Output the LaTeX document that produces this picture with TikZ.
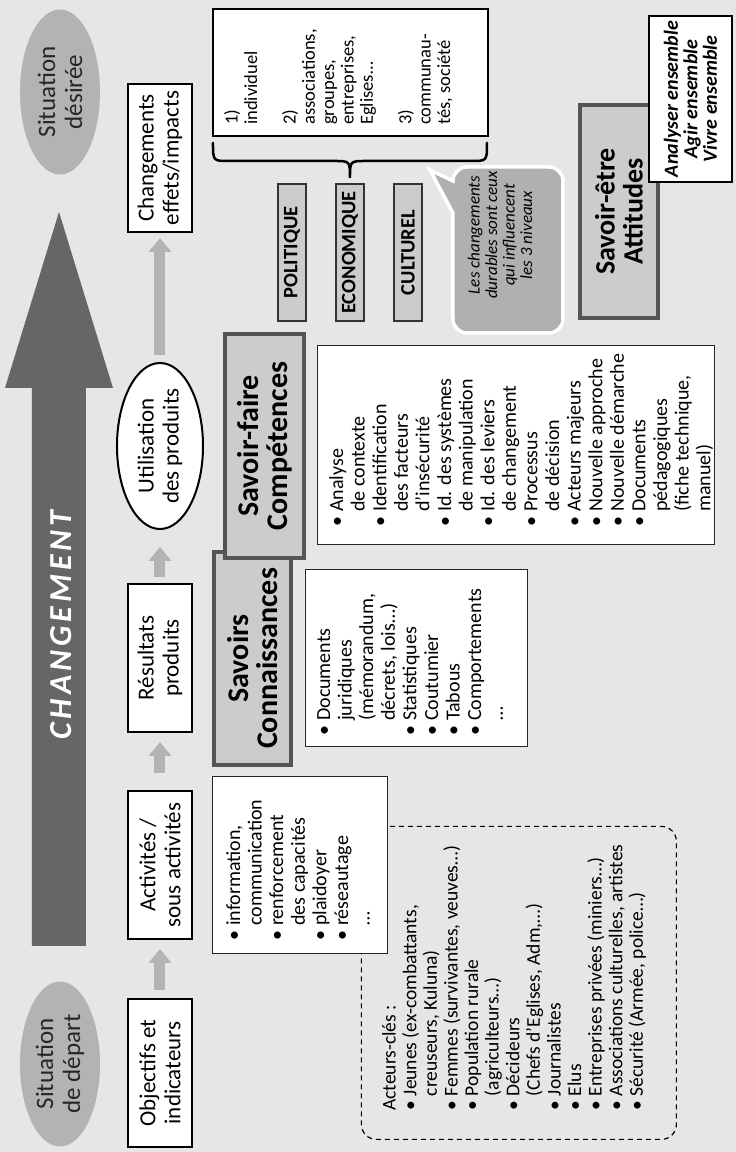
\documentclass[tikz,border=0pt]{standalone}
\usepackage{fontspec}
\setmainfont{Carlito}
\usetikzlibrary{arrows.meta,shapes.geometric}
\definecolor{bg}{HTML}{E6E6E6}
\definecolor{ellgray}{HTML}{B3B3B3}
\definecolor{bigarrow}{HTML}{666666}
\definecolor{arrowgray}{HTML}{B3B3B3}
\definecolor{savfill}{HTML}{CCCCCC}
\definecolor{savborder}{HTML}{555555}
\definecolor{bubblegray}{HTML}{B0B0B0}
\newcommand{\lbul}{\makebox[0.75em][l]{\textbullet}}
\newcommand{\lind}{\hspace*{0.75em}}
\begin{document}
\begin{tikzpicture}[x=1pt,y=1pt,rotate=90,transform shape,
  lbl/.style={draw=black,line width=2pt,fill=white,minimum width=148pt,minimum height=64pt,inner sep=0pt,align=center,font=\fontsize{23}{25}\selectfont},
  sit/.style={ellipse,fill=ellgray,minimum width=165pt,minimum height=80pt,inner sep=0pt,align=center,text=black!85,font=\fontsize{25}{27}\selectfont},
  garrow/.style={draw=arrowgray,line width=11pt,-{Triangle[length=14pt,width=22pt]}},
  listbox/.style={draw=black!85,line width=1.3pt,fill=white,anchor=north west,inner sep=0pt},
  listtxt/.style={anchor=north west,inner sep=0pt,align=left,font=\fontsize{20}{21.6}\selectfont},
  savbox/.style={draw=savborder,line width=4.5pt,fill=savfill,inner sep=0pt,align=center,font=\fontsize{30}{29}\selectfont\bfseries},
  dombox/.style={draw=black!80,line width=2pt,fill=savfill,minimum width=137pt,minimum height=28pt,inner sep=0pt,font=\fontsize{20.5}{20}\selectfont\bfseries},
]
% background
\fill[bg] (0,0) rectangle (1152,736);
\useasboundingbox (0,0) rectangle (1152,736);

% big arrow
\fill[bigarrow] (206,650) -- (764,650) -- (764,623) -- (940,677) -- (764,731) -- (764,704) -- (206,704) -- cycle;
\node[text=white,font=\fontsize{32}{32}\selectfont\bfseries\itshape,inner sep=0pt] (chgt) at (527,675)
  {C\kern4pt H\kern4pt A\kern4pt N\kern4pt G\kern4pt E\kern4pt M\kern4pt E\kern4pt N\kern4pt T};

% situations
\node[sit] (start) at (88,676) {Situation\\de départ};
\node[sit] (goal) at (1060,676) {Situation\\désirée};

% chain
\node[lbl] (obj) at (79,576) {Objectifs et\\indicateurs};
\node[lbl] (act) at (287,576) {Activités /\\sous activités};
\node[lbl] (res) at (494,576) {Résultats\\produits};
\node[ellipse,draw=black,line width=2pt,fill=white,minimum width=166pt,minimum height=86pt,inner sep=0pt,align=center,font=\fontsize{23}{25}\selectfont] (util) at (706,576) {Utilisation\\des produits};
\node[lbl] (chg) at (994,576) {Changements\\effets/impacts};

\draw[garrow,shorten <=8pt,shorten >=9pt] (obj.east) -- (act.west);
\draw[garrow,shorten <=17pt,shorten >=9pt] (act.east) -- (res.west);
\draw[garrow,shorten <=6pt,shorten >=17pt] (res.east) -- (util.west);
\draw[garrow,shorten <=7pt,shorten >=5pt] (util.east) -- (chg.west);

% actors dashed box
\node[draw=black,line width=1.2pt,dash pattern=on 5pt off 4pt,rounded corners=15pt,anchor=south west,minimum width=313pt,minimum height=315pt,inner sep=0pt] (actors) at (12,59) {};
\node[listtxt,font=\fontsize{19.5}{20.6}\selectfont] (actorstxt) at (41,354) {Acteurs-clés :\\
\lbul Jeunes (ex-combattants,\\
\lind creuseurs, Kuluna)\\
\lbul Femmes (survivantes, veuves…)\\
\lbul Population rurale\\
\lind (agriculteurs…)\\
\lbul Décideurs\\
\lind (Chefs d’Eglises, Adm,…)\\
\lbul Journalistes\\
\lbul Elus\\
\lbul Entreprises privées (miniers…)\\
\lbul Associations culturelles, artistes\\
\lbul Sécurité (Armée, police…)};

% activities list
\node[listbox,minimum width=177pt,minimum height=175pt] (actbox) at (198,524) {};
\node[listtxt] (acttxt) at (211,510) {\lbul information,\\
\lind communication\\
\lbul renforcement\\
\lind des capacités\\
\lbul plaidoyer\\
\lbul réseautage\\
\lind …};

% savoirs
\node[savbox,minimum width=213pt,minimum height=77pt] (savoirs) at (493.5,483.5) {Savoirs\\Connaissances};
\node[savbox,minimum width=224pt,minimum height=79pt] (savfaire) at (706,471.5) {Savoir-faire\\Compétences};

\node[listbox,minimum width=177pt,minimum height=222pt] (connbox) at (405,431) {};
\node[listtxt] (conntxt) at (416,419) {\lbul Documents\\
\lind juridiques\\
\lind (mémorandum,\\
\lind décrets, lois…)\\
\lbul Statistiques\\
\lbul Coutumier\\
\lbul Tabous\\
\lbul Comportements\\
\lind …};

\node[listbox,minimum width=199pt,minimum height=397pt] (compbox) at (607,419) {};
\node[listtxt] (comptxt) at (625,407) {\lbul Analyse\\
\lind de contexte\\
\lbul Identification\\
\lind des facteurs\\
\lind d’insécurité\\
\lbul Id. des systèmes\\
\lind de manipulation\\
\lbul Id. des leviers\\
\lind de changement\\
\lbul Processus\\
\lind de décision\\
\lbul Acteurs majeurs\\
\lbul Nouvelle approche\\
\lbul Nouvelle démarche\\
\lbul Documents\\
\lind pédagogiques\\
\lind (fiche technique,\\
\lind manuel)};

% domains
\node[dombox] (pol) at (899.5,444) {POLITIQUE};
\node[dombox] (eco) at (899.5,386) {ECONOMIQUE};
\node[dombox] (cul) at (899.5,328) {CULTUREL};

% levels box
\node[draw=black,line width=2pt,fill=white,anchor=north west,minimum width=127pt,minimum height=275pt,inner sep=0pt] (levels) at (1015,524) {};
\node[listtxt,font=\fontsize{18.5}{19.3}\selectfont] (levelstxt) at (1027,512) {1)\\
individuel\\
\mbox{}\\
2)\\
associations,\\
groupes,\\
entreprises,\\
Eglises…\\
\mbox{}\\
3)\\
communau-\\
tés, société};

% brace
\draw[line width=2.5pt,line cap=round] (1009,249) .. controls (991,249) .. (991,265) -- (991,370)
  .. controls (991,386) .. (974,386) .. controls (991,386) .. (991,402) -- (991,507)
  .. controls (991,523) .. (1009,523);

% speech bubble
\draw[white,line width=3.5pt,fill=bubblegray,line join=miter]
  (833,173) -- (971,173) arc[start angle=-90,end angle=0,radius=14pt] -- (985,269)
  arc[start angle=0,end angle=90,radius=14pt] -- (982,306) -- (939,283) -- (833,283)
  arc[start angle=90,end angle=180,radius=14pt] -- (819,187)
  arc[start angle=180,end angle=270,radius=14pt] -- cycle;
\node[inner sep=0pt,align=center,font=\fontsize{17}{17.5}\selectfont\itshape] (bubble) at (917,236)
  {Les changements\\durables sont ceux\\qui influencent\\les 3 niveaux};

% savoir-etre
\node[savbox,minimum width=213pt,minimum height=78pt,font=\fontsize{28}{28}\selectfont\bfseries] (savetre) at (940.5,117) {Savoir-être\\Attitudes};
\node[draw=black,line width=2pt,fill=white,minimum width=166pt,minimum height=83pt,inner sep=0pt,align=center,font=\fontsize{20}{19.5}\selectfont\bfseries\itshape] (ensemble) at (1053,45.5)
  {Analyser ensemble\\Agir ensemble\\Vivre ensemble};
\end{tikzpicture}
\end{document}
